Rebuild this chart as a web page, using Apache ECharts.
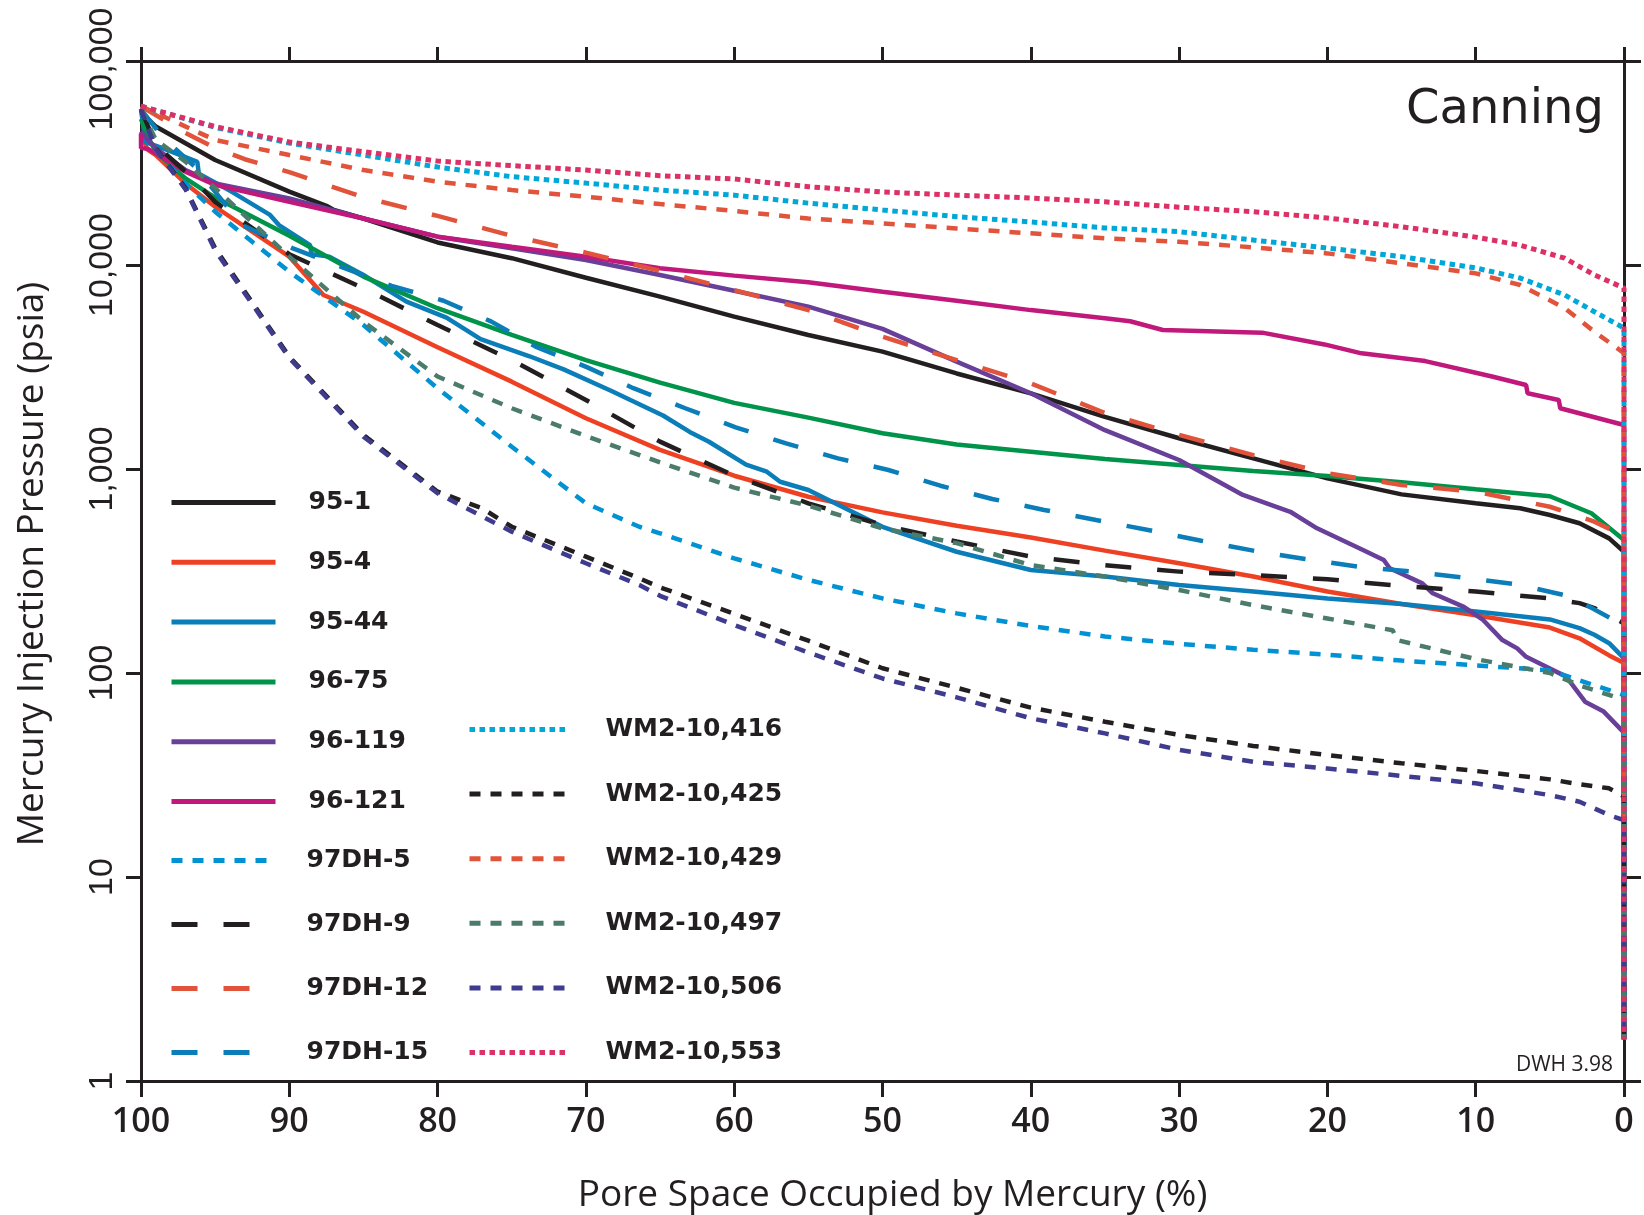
<!DOCTYPE html>
<html>
<head>
<meta charset="utf-8">
<title>Canning - Mercury Injection</title>
<script src="https://cdn.jsdelivr.net/npm/echarts@6/dist/echarts.min.js"></script>
<style>
html, body { margin: 0; padding: 0; background: #fff; }
#chart { width: 1644px; height: 1215px; }
</style>
</head>
<body>
<div id="chart"></div>
<script>
// tick labels
var xTickLabels = ['0', '10', '20', '30', '40', '50', '60', '70', '80', '90', '100'];
var yTickLabels = ['1', '10', '100', '1,000', '10,000', '100,000'];

var leftNamesA = ['95-1', '95-4', '95-44', '96-75', '96-119', '96-121'];
var leftNamesB = ['97DH-5', '97DH-9', '97DH-12', '97DH-15'];
var rightNames = ['WM2-10,416', 'WM2-10,425', 'WM2-10,429', 'WM2-10,497', 'WM2-10,506', 'WM2-10,553'];

// [pore space occupied %, pressure psia]
var d95_1 = [[100, 56000], [99, 47700], [97, 39500], [95, 32700], [90, 22900], [87.5, 19500], [87, 18600], [85, 16900], [80, 12900], [75, 10800], [70, 8660], [65, 7000], [60, 5580], [55, 4540], [50, 3760], [45, 2940], [40, 2350], [35, 1800], [30, 1415], [25, 1128], [20, 900], [15, 751], [10, 679], [7, 642], [5, 595], [3, 542], [1, 457], [0, 393], [0, 1.6]];
var d95_4 = [[100, 45000], [99.6, 37000], [99, 34600], [97, 25100], [95, 19300], [90, 10990], [87.7, 7130], [85, 5900], [80, 3950], [75, 2680], [70, 1773], [65, 1240], [60, 927], [55, 731], [50, 613], [45, 527], [40, 462], [35, 398], [30, 345], [25, 297], [20, 251], [15, 218], [10, 192], [5, 167], [3, 148], [1, 122], [0, 112], [0, 1.6]];
var d95_44 = [[100, 58000], [99.7, 40000], [98.5, 37300], [96.2, 32000], [96.1, 28000], [93.9, 22900], [91.3, 17600], [90.7, 15700], [88.6, 12500], [88.5, 11300], [87.3, 10990], [85, 8930], [82.1, 6610], [79.4, 5520], [77.1, 4330], [73.8, 3570], [71.5, 3080], [68.2, 2400], [67, 2180], [64.8, 1830], [63, 1520], [61.7, 1360], [59.2, 1050], [57.8, 970], [56.9, 866], [55, 789], [50, 521], [45, 393], [40, 320], [35, 297], [30, 270], [25, 251], [20, 232], [15, 218], [10, 200], [5, 183], [3, 166], [2, 154], [1, 140], [0, 118], [0, 1.6]];
var d96_75 = [[100, 52000], [99.5, 42000], [99, 35900], [97, 26600], [95, 21400], [90, 13900], [85, 8770], [80, 6140], [75, 4540], [70, 3420], [65, 2650], [60, 2110], [55, 1785], [50, 1497], [45, 1320], [40, 1216], [35, 1119], [30, 1046], [25, 977], [20, 924], [15, 860], [10, 795], [5, 735], [2.2, 607], [0, 449], [0, 1.6]];
var d96_119 = [[100, 45000], [99, 37300], [97, 29200], [95, 25100], [90, 21200], [85, 16900], [80, 13770], [75, 12070], [70, 10590], [65, 8930], [60, 7480], [55, 6250], [50, 4860], [45, 3360], [40, 2350], [35, 1550], [30, 1107], [25.7, 746], [22.5, 617], [20.7, 512], [17.6, 401], [16.2, 358], [15.8, 326], [13.6, 275], [12.9, 246], [10.8, 211], [9.5, 182], [8.2, 145], [7.2, 132], [6.6, 120], [5.2, 107], [3.9, 96], [2.6, 72], [1.4, 65], [0, 51], [0, 1.6]];
var d96_121 = [[100, 44000], [100, 37500], [99.5, 37000], [97, 28700], [95, 24700], [90, 20400], [85, 16900], [80, 13770], [75, 12300], [70, 10990], [65, 9640], [60, 8870], [55, 8230], [50, 7400], [45, 6680], [40, 6010], [35, 5480], [33.3, 5300], [31.1, 4800], [24.4, 4660], [20.2, 4080], [17.7, 3690], [13.4, 3380], [8.9, 2840], [6.6, 2580], [6.5, 2350], [4.4, 2180], [4.3, 1985], [0, 1643], [0, 1.6]];
var d97dh_5 = [[100, 58000], [99, 36600], [97, 25100], [95, 18250], [90, 9270], [85, 5080], [80, 2485], [75, 1286], [70, 679], [66.4, 521], [65, 484], [60, 365], [55, 286], [50, 232], [45, 196], [40, 170], [35, 151], [30, 139], [25, 130], [20, 123], [15, 115], [10, 109], [5, 103], [3, 92], [0, 78], [0, 1.6]];
var d97dh_9 = [[100, 58000], [99, 38700], [97, 28700], [95, 20400], [90, 11300], [85, 7690], [80, 5080], [75, 3420], [70, 2180], [66.4, 1550], [65, 1362], [60, 927], [55, 679], [50, 531], [45, 441], [40, 372], [35, 338], [30, 314], [25, 302], [20, 288], [15, 267], [10, 251], [5, 232], [3, 220], [2, 208], [1, 192], [0, 175], [0, 1.6]];
var d97dh_12 = [[100, 60000], [97, 44400], [95, 37500], [93, 33000], [90, 28500], [85, 21500], [80, 17400], [75, 13900], [70, 11500], [65, 9350], [60, 7540], [55, 6010], [50, 4450], [45, 3420], [40, 2630], [35, 1880], [30, 1470], [25, 1170], [20, 953], [15, 835], [10, 774], [5, 653], [2, 552], [0, 470], [0, 1.6]];
var d97dh_15 = [[100, 58000], [98.5, 42000], [96.3, 30000], [93.2, 15700], [89.8, 12100], [86.5, 9800], [83.1, 7900], [79.6, 6680], [76.4, 5290], [73.4, 3980], [69.9, 3150], [66.8, 2490], [63.3, 1985], [59.9, 1600], [56.5, 1336], [53, 1128], [49.6, 989], [46.1, 828], [42.6, 713], [39.1, 630], [35.6, 562], [32, 501], [28.5, 445], [25, 398], [21.5, 362], [17.9, 332], [14.3, 314], [10.7, 293], [7.2, 272], [3.6, 237], [0.7, 182], [0, 162], [0, 1.6]];
var dwm_416 = [[100, 60000], [95, 47300], [90, 39600], [85, 34600], [80, 30200], [75, 27100], [70, 25200], [65, 23300], [60, 22000], [55, 20100], [50, 18600], [45, 17260], [40, 16250], [35, 15200], [30, 14560], [25, 13250], [20, 12110], [15, 10990], [10, 9670], [7, 8630], [4, 7130], [2, 5900], [0, 4910], [0, 1.6]];
var dwm_425 = [[100, 58000], [99, 37300], [97, 23800], [95, 12070], [90, 3550], [85, 1468], [80, 774], [77, 642], [75, 521], [70, 372], [66.4, 291], [65, 263], [60, 195], [55, 144], [50, 105.5], [45, 84.7], [40, 67.6], [35, 57.7], [30, 49.7], [25, 43.9], [20, 39.6], [15, 36.1], [10, 33.1], [5, 30.1], [3, 28.5], [1, 27.2], [0, 24.8], [0, 1.6]];
var dwm_429 = [[100, 60000], [95, 41000], [90, 34600], [85, 29200], [80, 25600], [75, 23300], [70, 21600], [65, 19900], [60, 18400], [55, 16900], [50, 16000], [45, 15100], [40, 14300], [35, 13500], [30, 13000], [25, 12200], [20, 11400], [15, 10200], [10, 9100], [7, 7980], [4, 6150], [2, 4710], [0, 3700], [0, 1.6]];
var dwm_497 = [[100, 58000], [99, 41000], [97, 32100], [95, 23800], [90, 10990], [85, 5270], [80, 2840], [75, 1985], [70, 1452], [65, 1077], [60, 810], [55, 661], [50, 512], [45, 433], [40, 338], [35, 297], [30, 255], [25, 215], [20, 185], [15.6, 162], [15.3, 145], [10, 117], [5, 100], [3, 87], [0, 73.8], [0, 1.6]];
var dwm_506 = [[100, 58000], [99, 37000], [97, 23500], [95, 11800], [90, 3500], [85, 1440], [80, 760], [75, 493], [70, 345], [66.4, 270], [65, 239], [60, 172], [55, 126], [50, 94], [45, 76], [40, 60], [35, 50.6], [30, 42.0], [25, 36.7], [20, 34.0], [15, 31.3], [10, 28.8], [5, 25.2], [3, 23.4], [1, 20.1], [0, 19.0], [0, 1.6]];
var dwm_553 = [[100, 60000], [95, 47700], [90, 40100], [85, 35900], [80, 32300], [75, 30700], [70, 29200], [65, 27400], [60, 26400], [55, 24200], [50, 22800], [45, 22000], [40, 21300], [35, 20400], [30, 19200], [25, 18250], [20, 17000], [15, 15400], [10, 13700], [7, 12500], [4, 10800], [2, 8940], [0, 7710], [0, 1.6]];

var ink = '#231f20';
var SOLID = 'solid';
var SHORT = [11, 10];
var LONG = [26, 26];
var DOT = [5.5, 4.5];

// name, data, colour, dash
var lines = [
    ['95-1', d95_1, ink, SOLID],
    ['95-4', d95_4, '#ee4123', SOLID],
    ['95-44', d95_44, '#0b7db8', SOLID],
    ['96-75', d96_75, '#00934a', SOLID],
    ['96-119', d96_119, '#683f99', SOLID],
    ['96-121', d96_121, '#c1197b', SOLID],
    ['97DH-5', d97dh_5, '#0092d3', SHORT],
    ['97DH-9', d97dh_9, ink, LONG],
    ['97DH-12', d97dh_12, '#e1533a', LONG],
    ['97DH-15', d97dh_15, '#0b7db8', LONG],
    ['WM2-10,416', dwm_416, '#00a8d8', DOT],
    ['WM2-10,425', dwm_425, ink, SHORT],
    ['WM2-10,429', dwm_429, '#e1533a', SHORT],
    ['WM2-10,497', dwm_497, '#4b7c6b', SHORT],
    ['WM2-10,506', dwm_506, '#3f3b8e', SHORT],
    ['WM2-10,553', dwm_553, '#dd3066', DOT]
];

var series = lines.map(function (l) {
    return {
        name: l[0],
        type: 'line',
        data: l[1],
        symbol: 'none',
        showSymbol: false,
        silent: true,
        lineStyle: { color: l[2], width: l[3] === DOT ? 5 : 4.5, type: l[3] },
        itemStyle: { color: l[2] },
        emphasis: { disabled: true }
    };
});

var legendText = {
    fontFamily: 'DejaVu Sans',
    fontWeight: 'bold',
    fontSize: 25,
    color: ink
};
function legendBlock(names, left, top, width, gap, textPad) {
    return {
        data: names,
        orient: 'vertical',
        left: left,
        top: top,
        padding: 0,
        itemWidth: width,
        itemHeight: 14,
        itemGap: gap,
        selectedMode: false,
        itemStyle: { opacity: 0 },
        lineStyle: { width: 5 },
        textStyle: Object.assign({ padding: [0, 0, 0, textPad] }, legendText)
    };
}

var axisLineStyle = { color: ink, width: 3 };
var yLabelFont = "'Liberation Sans', Arial, sans-serif";

var myChart = echarts.init(document.getElementById('chart'));

var option = {
    animation: false,
    backgroundColor: '#fff',
    grid: {
        left: 141,
        right: 20,
        top: 61,
        bottom: 134,
        containLabel: false,
        outerBoundsMode: 'none'
    },
    legend: [
        legendBlock(leftNamesA, 169, 490, 104, 34.8, 28),
        legendBlock(leftNamesB, 169, 848, 104, 39, 26),
        legendBlock(rightNames, 467, 717, 100, 39.6, 31)
    ],
    xAxis: [
        {
            type: 'value',
            position: 'bottom',
            min: 0,
            max: 100,
            interval: 10,
            inverse: true,
            axisLine: { show: true, onZero: false, lineStyle: axisLineStyle },
            axisTick: { show: true, inside: false, length: 16, lineStyle: axisLineStyle },
            axisLabel: {
                margin: 24,
                fontFamily: 'Open Sans',
                fontWeight: 600,
                fontSize: 34,
                color: ink,
                formatter: function (v) { return xTickLabels[Math.round(v / 10)]; }
            },
            splitLine: { show: false },
            name: 'Pore Space Occupied by Mercury (%)',
            nameLocation: 'middle',
            nameGap: 96,
            nameTextStyle: { fontFamily: 'Open Sans', fontSize: 37, color: ink, padding: [0, 0, 0, 20] }
        },
        {
            type: 'value',
            position: 'top',
            min: 0,
            max: 100,
            interval: 10,
            inverse: true,
            axisLine: { show: true, onZero: false, lineStyle: axisLineStyle },
            axisTick: { show: true, inside: false, length: 14, lineStyle: axisLineStyle },
            axisLabel: { show: false },
            splitLine: { show: false }
        }
    ],
    yAxis: [
        {
            type: 'log',
            logBase: 10,
            position: 'left',
            min: 1,
            max: 100000,
            splitNumber: 5,
            axisLine: { show: true, onZero: false, lineStyle: axisLineStyle },
            axisTick: { show: true, inside: false, length: 15, lineStyle: axisLineStyle },
            minorTick: { show: false },
            axisLabel: {
                rotate: 90,
                margin: 21,
                fontFamily: yLabelFont,
                fontSize: 34,
                color: ink,
                formatter: function (v) {
                    var i = Math.round(Math.log10(v));
                    // top label sits a little lower so it stays on the page
                    return i === yTickLabels.length - 1 ? '{t|' + yTickLabels[i] + '}' : yTickLabels[i];
                },
                rich: {
                    t: { fontFamily: yLabelFont, fontSize: 34, color: ink, padding: [0, 16, 0, 0] }
                }
            },
            splitLine: { show: false },
            name: 'Mercury Injection Pressure (psia)',
            nameLocation: 'middle',
            nameRotate: 90,
            nameGap: 90,
            nameTextStyle: { fontFamily: 'Open Sans', fontSize: 37, color: ink, padding: [0, 0, 0, 14] }
        },
        {
            type: 'log',
            logBase: 10,
            position: 'right',
            min: 1,
            max: 100000,
            splitNumber: 5,
            axisLine: { show: true, onZero: false, lineStyle: axisLineStyle },
            axisTick: { show: true, inside: false, length: 17, lineStyle: axisLineStyle },
            minorTick: { show: false },
            axisLabel: { show: false },
            splitLine: { show: false }
        }
    ],
    graphic: [
        {
            type: 'text',
            right: 40,
            top: 87,
            style: { text: 'Canning', font: '48px "DejaVu Sans"', fill: ink }
        },
        {
            type: 'text',
            right: 31,
            top: 1055,
            style: { text: 'DWH 3.98', font: '21px "Open Sans"', fill: ink }
        }
    ],
    series: series
};

myChart.setOption(option, true);
window.onresize = myChart.resize;
</script>
</body>
</html>
